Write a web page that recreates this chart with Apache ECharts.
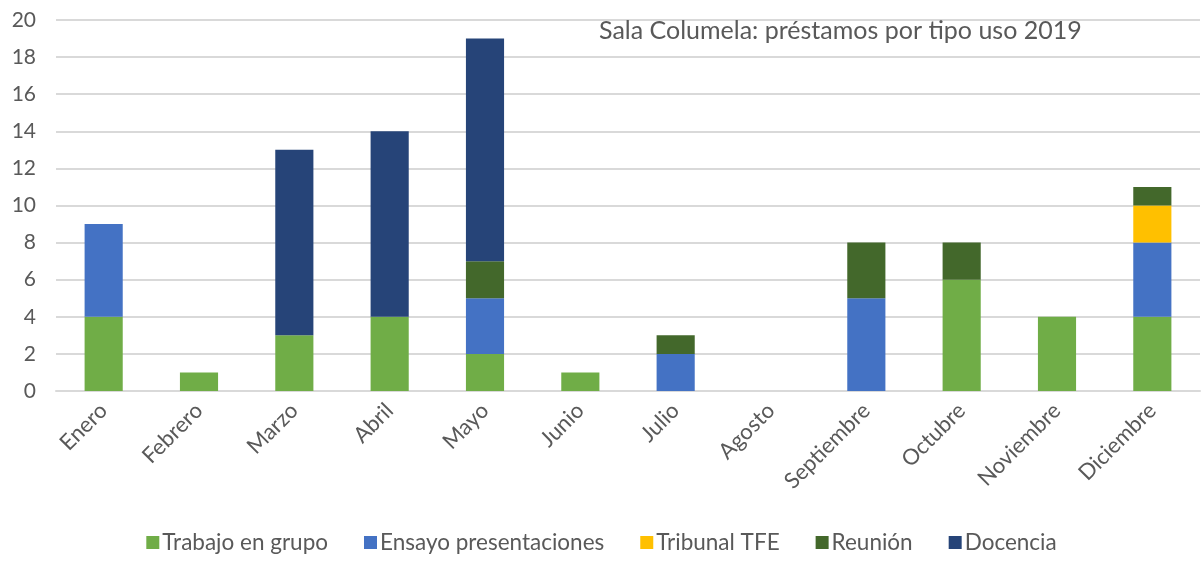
<!DOCTYPE html>
<html>
<head>
<meta charset="utf-8">
<script src="https://cdn.jsdelivr.net/npm/echarts@6/dist/echarts.min.js"></script>
<style>
  html, body { margin: 0; padding: 0; background: #fff; }
  #chart { width: 1203px; height: 561px; }
</style>
</head>
<body>
<div id="chart"></div>
<script>
const months = ['Enero', 'Febrero', 'Marzo', 'Abril', 'Mayo', 'Junio', 'Julio', 'Agosto', 'Septiembre', 'Octubre', 'Noviembre', 'Diciembre'];
const trabajoGrupo = [4, 1, 3, 4, 2, 1, 0, 0, 0, 6, 4, 4];
const ensayoPresentaciones = [5, 0, 0, 0, 3, 0, 2, 0, 5, 0, 0, 4];
const tribunalTFE = [0, 0, 0, 0, 0, 0, 0, 0, 0, 0, 0, 2];
const reunion = [0, 0, 0, 0, 2, 0, 1, 0, 3, 2, 0, 1];
const docencia = [0, 0, 10, 10, 12, 0, 0, 0, 0, 0, 0, 0];

const fontFamily = 'Lato, "Open Sans", sans-serif';
const textGrey = '#595959';

// zero values are left out so no empty segment is drawn
const clean = arr => arr.map(v => (v === 0 ? '-' : v));

function bar(name, data, color) {
    return {
        name: name,
        type: 'bar',
        stack: 'total',
        barWidth: '40%',
        itemStyle: { color: color },
        data: clean(data)
    };
}

const chart = echarts.init(document.getElementById('chart'), null, { renderer: 'canvas' });
chart.setOption({
    animation: false,
    backgroundColor: '#fff',
    textStyle: { fontFamily: fontFamily, color: textGrey },
    title: {
        text: 'Sala Columela: préstamos por tipo uso 2019',
        left: 594,
        top: 13,
        textStyle: { fontFamily: fontFamily, fontSize: 25, fontWeight: 'normal', color: textGrey }
    },
    legend: {
        bottom: 2,
        left: 'center',
        itemWidth: 13,
        itemHeight: 13,
        itemGap: 36,
        icon: 'rect',
        textStyle: { fontFamily: fontFamily, fontSize: 22.5, color: textGrey, padding: [0, 0, 0, -2] }
    },
    grid: { left: 56, right: 3, top: 20, bottom: 170, containLabel: false },
    xAxis: {
        type: 'category',
        data: months,
        axisLine: { show: true, lineStyle: { color: '#d9d9d9', width: 2 } },
        axisTick: { show: false },
        axisLabel: {
            rotate: 45,
            fontFamily: fontFamily,
            fontSize: 22,
            color: textGrey,
            margin: 16,
            interval: 0
        }
    },
    yAxis: {
        type: 'value',
        min: 0,
        max: 20,
        interval: 2,
        axisLine: { show: false },
        axisTick: { show: false },
        axisLabel: { fontFamily: fontFamily, fontSize: 21, color: textGrey, margin: 20 },
        splitLine: { lineStyle: { color: '#d9d9d9', width: 2 } }
    },
    series: [
        bar('Trabajo en grupo', trabajoGrupo, '#70ad47'),
        bar('Ensayo presentaciones', ensayoPresentaciones, '#4472c4'),
        bar('Tribunal TFE', tribunalTFE, '#ffc000'),
        bar('Reunión', reunion, '#43682b'),
        bar('Docencia', docencia, '#264478')
    ]
});
</script>
</body>
</html>
